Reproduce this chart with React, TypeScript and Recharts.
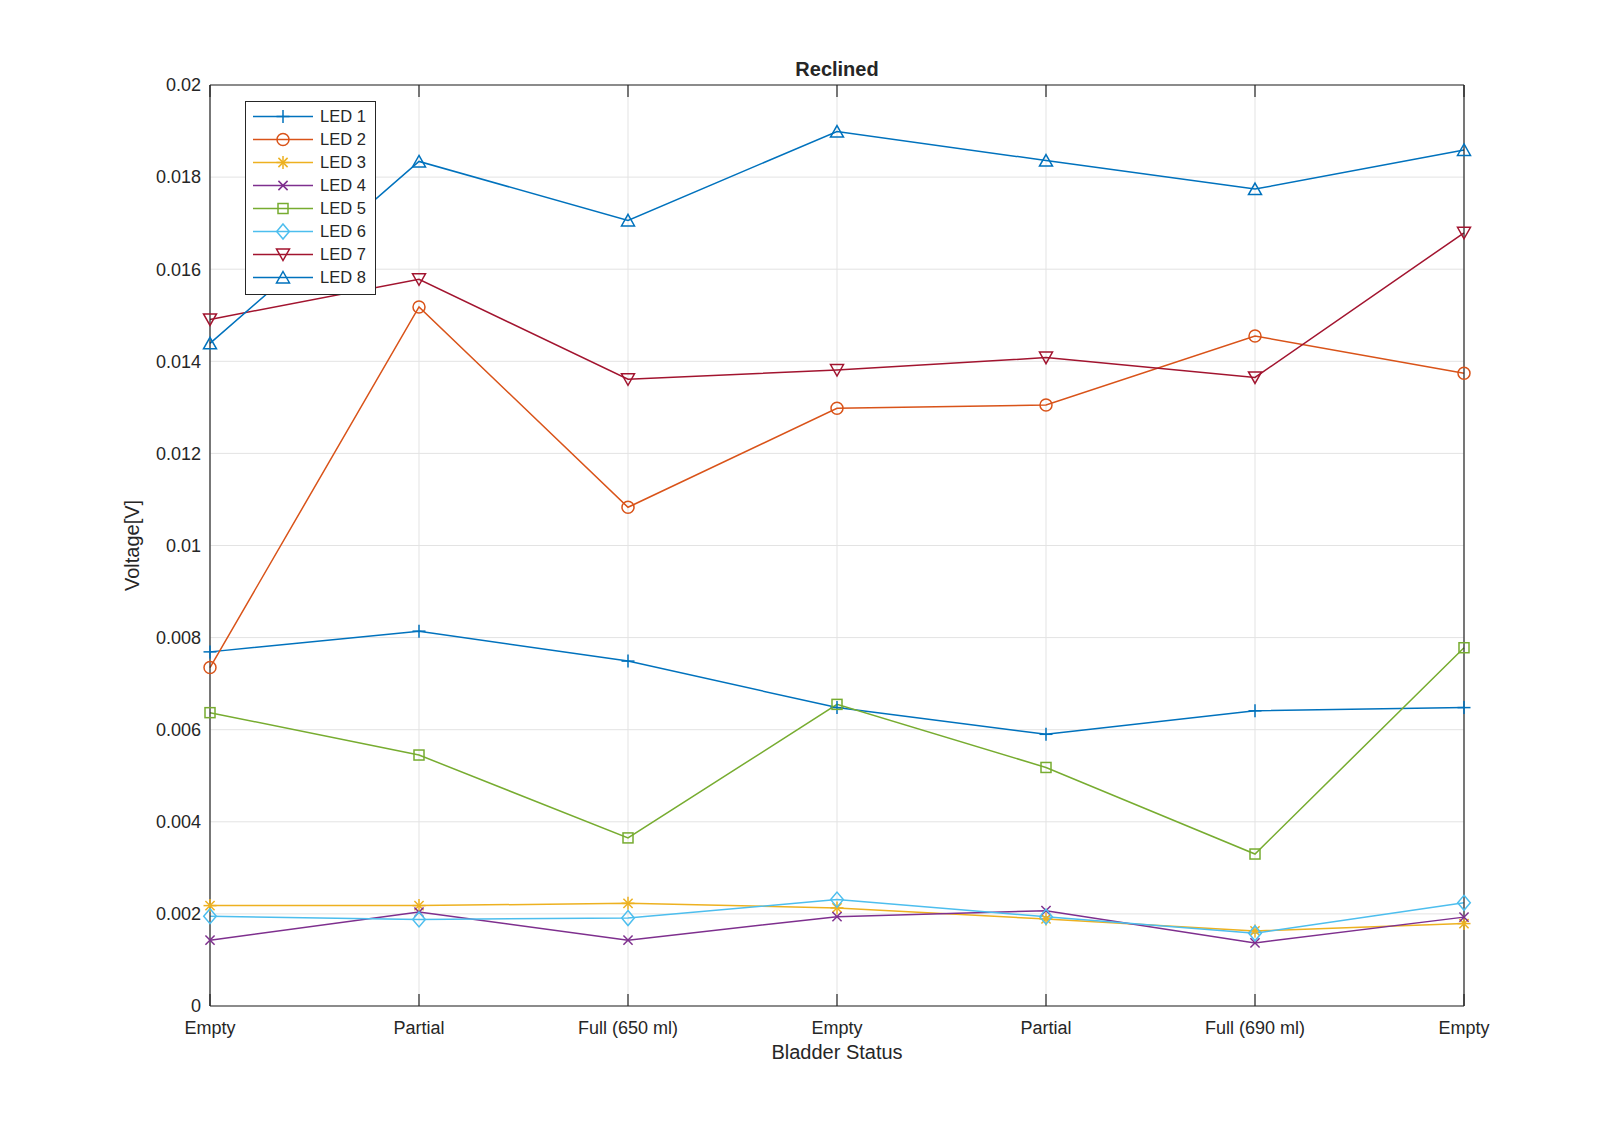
import React from 'react';
import { LineChart, Line, XAxis, YAxis, CartesianGrid } from 'recharts';

const categories = ['Empty', 'Partial', 'Full (650 ml)', 'Empty', 'Partial', 'Full (690 ml)', 'Empty'];
const xTicks = [0, 1, 2, 3, 4, 5, 6];
const yTicks = [0, 0.002, 0.004, 0.006, 0.008, 0.01, 0.012, 0.014, 0.016, 0.018, 0.02];

const led1 = [0.00769, 0.00814, 0.00749, 0.00648, 0.0059, 0.00641, 0.00648];
const led2 = [0.00735, 0.01518, 0.01083, 0.01298, 0.01305, 0.01455, 0.01374];
const led3 = [0.00218, 0.00218, 0.00223, 0.00213, 0.00189, 0.00163, 0.00179];
const led4 = [0.00143, 0.00204, 0.00143, 0.00194, 0.00207, 0.00137, 0.00193];
const led5 = [0.00637, 0.00545, 0.00365, 0.00655, 0.00518, 0.0033, 0.00778];
const led6 = [0.00195, 0.00188, 0.00191, 0.00231, 0.00194, 0.00158, 0.00224];
const led7 = [0.01491, 0.01578, 0.01361, 0.01381, 0.01408, 0.01365, 0.01679];
const led8 = [0.01439, 0.01834, 0.01706, 0.01899, 0.01836, 0.01774, 0.01859];

type Shape = 'plus' | 'circle' | 'star' | 'x' | 'square' | 'diamond' | 'triDown' | 'triUp';

const series: { key: string; name: string; color: string; shape: Shape; values: number[] }[] = [
  { key: 'led1', name: 'LED 1', color: '#0072BD', shape: 'plus', values: led1 },
  { key: 'led2', name: 'LED 2', color: '#D95319', shape: 'circle', values: led2 },
  { key: 'led3', name: 'LED 3', color: '#EDB120', shape: 'star', values: led3 },
  { key: 'led4', name: 'LED 4', color: '#7E2F8E', shape: 'x', values: led4 },
  { key: 'led5', name: 'LED 5', color: '#77AC30', shape: 'square', values: led5 },
  { key: 'led6', name: 'LED 6', color: '#4DBEEE', shape: 'diamond', values: led6 },
  { key: 'led7', name: 'LED 7', color: '#A2142F', shape: 'triDown', values: led7 },
  { key: 'led8', name: 'LED 8', color: '#0072BD', shape: 'triUp', values: led8 },
];

const data = categories.map((c, i) => {
  const row: Record<string, number | string> = { x: i, category: c };
  series.forEach((s) => {
    row[s.key] = s.values[i];
  });
  return row;
});

const FONT = "'Liberation Sans', Arial, Helvetica, sans-serif";
const INK = '#262626';
const GRID = '#e3e3e3';

const W = 1600;
const H = 1114;
// plot area: left 202, top 77, right 1456, bottom 998
const X_AXIS_H = 40;
const Y_AXIS_W = 60;
const M = { top: 77, right: 144, bottom: 116 - X_AXIS_H, left: 202 - Y_AXIS_W };
const plotLeft = 202;
const plotW = 1254;
const plotTop = 77;
const plotH = 921;

function Marker({ shape, color, cx, cy }: { shape: Shape; color: string; cx: number; cy: number }) {
  const common = { stroke: color, strokeWidth: 1.5, fill: 'none' };
  switch (shape) {
    case 'plus':
      return (
        <g {...common}>
          <line x1={cx - 6.5} y1={cy} x2={cx + 6.5} y2={cy} />
          <line x1={cx} y1={cy - 6.5} x2={cx} y2={cy + 6.5} />
        </g>
      );
    case 'circle':
      return <circle cx={cx} cy={cy} r={6} {...common} />;
    case 'star':
      return (
        <g {...common}>
          <line x1={cx - 6.5} y1={cy} x2={cx + 6.5} y2={cy} />
          <line x1={cx} y1={cy - 6.5} x2={cx} y2={cy + 6.5} />
          <line x1={cx - 4.6} y1={cy - 4.6} x2={cx + 4.6} y2={cy + 4.6} />
          <line x1={cx - 4.6} y1={cy + 4.6} x2={cx + 4.6} y2={cy - 4.6} />
        </g>
      );
    case 'x':
      return (
        <g {...common}>
          <line x1={cx - 4.6} y1={cy - 4.6} x2={cx + 4.6} y2={cy + 4.6} />
          <line x1={cx - 4.6} y1={cy + 4.6} x2={cx + 4.6} y2={cy - 4.6} />
        </g>
      );
    case 'square':
      return <rect x={cx - 5} y={cy - 5} width={10} height={10} {...common} />;
    case 'diamond':
      return <polygon points={`${cx},${cy - 7.5} ${cx + 6.3},${cy} ${cx},${cy + 7.5} ${cx - 6.3},${cy}`} {...common} />;
    case 'triDown':
      return <polygon points={`${cx - 6.5},${cy - 5.5} ${cx + 6.5},${cy - 5.5} ${cx},${cy + 6}`} {...common} />;
    case 'triUp':
      return <polygon points={`${cx},${cy - 6} ${cx + 6.5},${cy + 5.5} ${cx - 6.5},${cy + 5.5}`} {...common} />;
  }
  return null;
}

function formatY(v: number) {
  return String(parseFloat(v.toFixed(3)));
}

const tickLineStyle = { stroke: INK, strokeWidth: 1.2 };
const noLabel = () => <g />;

export default function App() {
  return (
    <div style={{ position: 'relative', width: W, height: H, fontFamily: FONT, color: INK, background: '#fff' }}>
      <LineChart width={W} height={H} data={data} margin={M}>
        <CartesianGrid stroke={GRID} strokeWidth={1} />
        <XAxis
          dataKey="x"
          type="number"
          domain={[0, 6]}
          ticks={xTicks}
          tickFormatter={(v: number) => categories[v]}
          height={X_AXIS_H}
          tickSize={0}
          tickMargin={15}
          tickLine={false}
          axisLine={tickLineStyle}
          tick={{ fill: INK, fontSize: 18, fontFamily: FONT }}
          interval={0}
        />
        <XAxis
          xAxisId="bottomTicks"
          dataKey="x"
          type="number"
          domain={[0, 6]}
          ticks={xTicks}
          orientation="bottom"
          mirror
          height={1}
          tick={noLabel}
          tickSize={12}
          tickLine={tickLineStyle}
          axisLine={false}
          interval={0}
        />
        <XAxis
          xAxisId="top"
          dataKey="x"
          type="number"
          domain={[0, 6]}
          ticks={xTicks}
          orientation="top"
          mirror
          height={1}
          tick={noLabel}
          tickSize={12}
          tickLine={tickLineStyle}
          axisLine={tickLineStyle}
          interval={0}
        />
        <YAxis
          type="number"
          domain={[0, 0.02]}
          ticks={yTicks}
          tickFormatter={formatY}
          width={Y_AXIS_W}
          tickSize={0}
          tickMargin={9}
          tickLine={false}
          axisLine={tickLineStyle}
          tick={{ fill: INK, fontSize: 18, fontFamily: FONT }}
          interval={0}
        />
        <YAxis
          yAxisId="leftTicks"
          type="number"
          domain={[0, 0.02]}
          ticks={yTicks}
          orientation="left"
          mirror
          width={1}
          tick={noLabel}
          tickSize={12}
          tickLine={tickLineStyle}
          axisLine={false}
          interval={0}
        />
        <YAxis
          yAxisId="right"
          type="number"
          domain={[0, 0.02]}
          ticks={yTicks}
          orientation="right"
          mirror
          width={1}
          tick={noLabel}
          tickSize={12}
          tickLine={tickLineStyle}
          axisLine={tickLineStyle}
          interval={0}
        />
        {series.map((s) => (
          <Line
            key={s.key}
            dataKey={s.key}
            name={s.name}
            stroke={s.color}
            strokeWidth={1.5}
            isAnimationActive={false}
            activeDot={false}
            dot={(p: any) => <Marker key={`${s.key}-${p.index}`} shape={s.shape} color={s.color} cx={p.cx} cy={p.cy} />}
          />
        ))}
      </LineChart>

      <div
        style={{
          position: 'absolute',
          left: plotLeft,
          width: plotW,
          top: 50,
          textAlign: 'center',
          fontWeight: 'bold',
          fontSize: 20,
        }}
      >
        Reclined
      </div>
      <div
        style={{
          position: 'absolute',
          left: plotLeft,
          width: plotW,
          top: plotTop + plotH + 35,
          textAlign: 'center',
          fontSize: 20,
        }}
      >
        Bladder Status
      </div>
      <div
        style={{
          position: 'absolute',
          left: 124 - 100,
          top: plotTop + plotH / 2 - 12,
          width: 200,
          textAlign: 'center',
          fontSize: 20,
          transform: 'rotate(-90deg)',
        }}
      >
        Voltage[V]
      </div>

      <div
        style={{
          position: 'absolute',
          left: 237,
          top: 93,
          width: 129,
          height: 189,
          border: `1px solid ${INK}`,
          background: '#fff',
          paddingTop: 3,
          boxSizing: 'content-box',
        }}
      >
        {series.map((s) => (
          <div key={s.key} style={{ display: 'flex', alignItems: 'center', height: 23, fontSize: 16.5 }}>
            <svg width={74} height={23} style={{ flex: 'none' }}>
              <line x1={7} y1={11.5} x2={67} y2={11.5} stroke={s.color} strokeWidth={1.5} />
              <Marker shape={s.shape} color={s.color} cx={37} cy={11.5} />
            </svg>
            <span>{s.name}</span>
          </div>
        ))}
      </div>
    </div>
  );
}
